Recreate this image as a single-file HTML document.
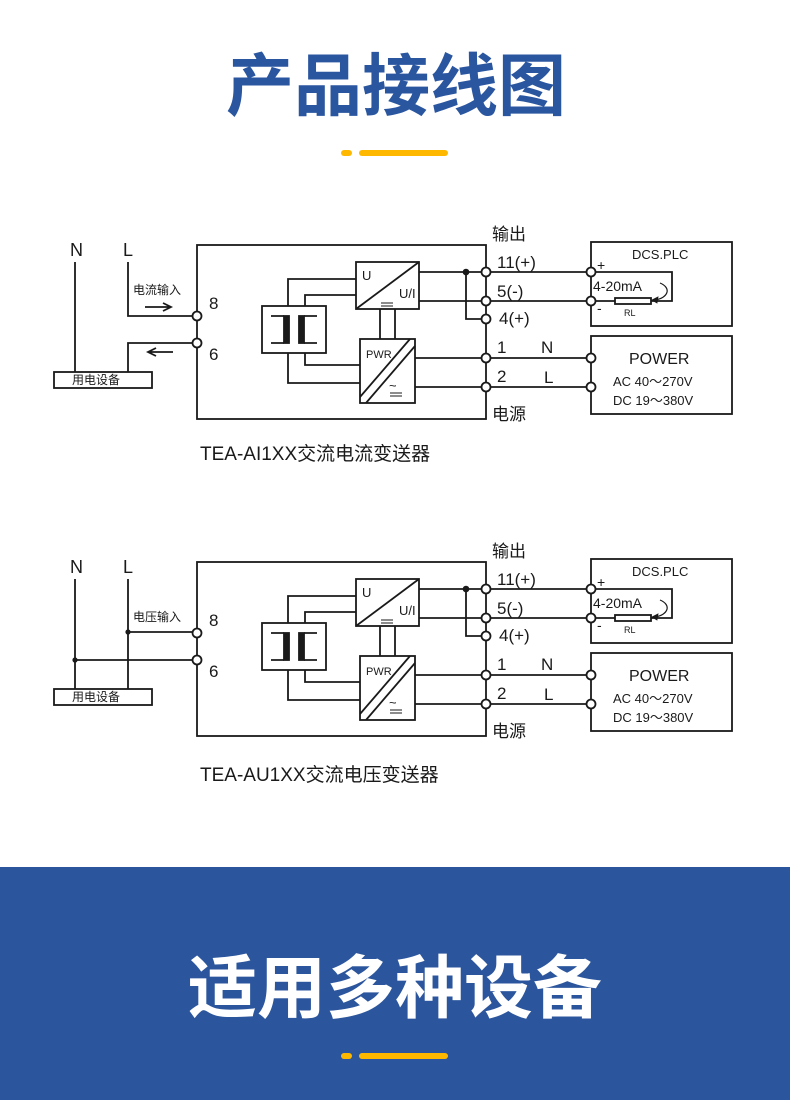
<!DOCTYPE html>
<html><head><meta charset="utf-8"><style>
html,body{margin:0;padding:0;background:#fff;}
svg{display:block;}
text{font-family:"Liberation Sans","Noto Sans CJK SC",sans-serif;}
</style></head><body>
<svg width="790" height="1100" viewBox="0 0 790 1100" xmlns="http://www.w3.org/2000/svg">
<defs>
<g id="common" fill="none" stroke="#1a1a1a" stroke-width="1.8">
  <rect x="197" y="245" width="289" height="174"/>
  <rect x="262" y="306" width="64" height="47" fill="#fff"/>
  <g>
    <path d="M271 316 H284 M271 343 H284 M304 316 H317 M304 343 H317"/>
    <rect x="284" y="316" width="5" height="27" fill="#1a1a1a"/>
    <rect x="299" y="316" width="5" height="27" fill="#1a1a1a"/>
  </g>
  <path d="M288 306 V279 H356 M305 306 V295 H356"/>
  <path d="M305 353 V365 H360 M288 353 V383 H360"/>
  <rect x="356" y="262" width="63" height="47"/>
  <path d="M356 309 L419 262"/>
  <path d="M381 303 H393 M381 306 H393" stroke-width="1"/>
  <path d="M380 309 V339 M395 309 V339"/>
  <rect x="360" y="339" width="55" height="64"/>
  <path d="M360 397 L410 339 M366 403 L415 346"/>
  <path d="M390 393 H402 M390 396 H402" stroke-width="1"/>
  <path d="M419 272 H486 M419 301 H486 M466 272 V319 H486 M415 358 H486 M415 387 H486"/>
  <circle cx="466" cy="272" r="2.4" fill="#1a1a1a"/>
  <path d="M486 272 H591 M486 301 H591 M486 358 H591 M486 387 H591"/>
  <rect x="591" y="242" width="141" height="84"/>
  <path d="M591 272 H672 V301 H651 M615 301 H591"/>
  <rect x="615" y="298" width="36" height="6" fill="#fff"/>
  <path d="M660 283 C672 288 668 298 655 300" stroke-width="1.2"/>
  <path d="M652 300 L658 297 L657 303 Z" fill="#1a1a1a" stroke-width="0.8"/>
  <rect x="591" y="336" width="141" height="78"/>
  <g fill="#fff">
    <circle cx="197" cy="316" r="4.5"/><circle cx="197" cy="343" r="4.5"/>
    <circle cx="486" cy="272" r="4.5"/><circle cx="486" cy="301" r="4.5"/><circle cx="486" cy="319" r="4.5"/>
    <circle cx="486" cy="358" r="4.5"/><circle cx="486" cy="387" r="4.5"/>
    <circle cx="591" cy="272" r="4.5"/><circle cx="591" cy="301" r="4.5"/>
    <circle cx="591" cy="358" r="4.5"/><circle cx="591" cy="387" r="4.5"/>
  </g>
  <rect x="54" y="372" width="98" height="16" fill="#fff"/>
  <g fill="#1a1a1a" stroke="none" font-size="17">
    <text x="70" y="256" font-size="18">N</text>
    <text x="123" y="256" font-size="18">L</text>
    <text x="209" y="309">8</text>
    <text x="209" y="360">6</text>
    <text x="362" y="280" font-size="13">U</text>
    <text x="399" y="298" font-size="13">U/I</text>
    <text x="366" y="358" font-size="11">PWR</text>
    <text x="389" y="390" font-size="13">~</text>
    <text x="492" y="240" font-size="17">输出</text>
    <text x="497" y="268">11(+)</text>
    <text x="497" y="297">5(-)</text>
    <text x="499" y="324">4(+)</text>
    <text x="497" y="353">1</text>
    <text x="541" y="353">N</text>
    <text x="497" y="382">2</text>
    <text x="544" y="383">L</text>
    <text x="492" y="420" font-size="17">电源</text>
    <text x="632" y="259" font-size="13">DCS.PLC</text>
    <text x="597" y="270" font-size="14">+</text>
    <text x="597" y="313" font-size="14">-</text>
    <text x="593" y="291" font-size="14">4-20mA</text>
    <text x="624" y="316" font-size="9">RL</text>
    <text x="629" y="364" font-size="16">POWER</text>
    <text x="613" y="386" font-size="13">AC 40～270V</text>
    <text x="613" y="405" font-size="13">DC 19～380V</text>
    <text x="72" y="384" font-size="12">用电设备</text>
  </g>
</g>
</defs>

<text x="396" y="110" text-anchor="middle" font-size="68" font-weight="bold" fill="#2a56a0">产品接线图</text>
<rect x="341" y="150" width="11" height="6" rx="3" fill="#ffb800"/>
<rect x="359" y="150" width="89" height="6" rx="3" fill="#ffb800"/>

<use href="#common"/>
<g fill="none" stroke="#1a1a1a" stroke-width="1.8">
  <path d="M75 262 V372 M128 262 V316 H193 M193 343 H128 V372"/>
  <path d="M145 307 H170 M163 303 L171 307 L163 311"/>
  <path d="M148 352 H173 M156 348 L148 352 L156 356"/>
</g>
<text x="133" y="294" font-size="12" fill="#1a1a1a">电流输入</text>
<text x="200" y="460" font-size="19" fill="#1a1a1a">TEA-AI1XX交流电流变送器</text>

<use href="#common" transform="translate(0,317)"/>
<g fill="none" stroke="#1a1a1a" stroke-width="1.8">
  <path d="M75 579 V689 M128 579 V689 M128 632 H193 M75 660 H193"/>
</g>
<circle cx="128" cy="632" r="2.6" fill="#1a1a1a"/>
<circle cx="75" cy="660" r="2.6" fill="#1a1a1a"/>
<text x="133" y="621" font-size="12" fill="#1a1a1a">电压输入</text>
<text x="200" y="781" font-size="19" fill="#1a1a1a">TEA-AU1XX交流电压变送器</text>

<rect x="0" y="867" width="790" height="233" fill="#2b559c"/>
<text x="395" y="1012" text-anchor="middle" font-size="69" font-weight="bold" fill="#fff">适用多种设备</text>
<rect x="341" y="1053" width="11" height="6" rx="3" fill="#ffb800"/>
<rect x="359" y="1053" width="89" height="6" rx="3" fill="#ffb800"/>
</svg>
</body></html>
